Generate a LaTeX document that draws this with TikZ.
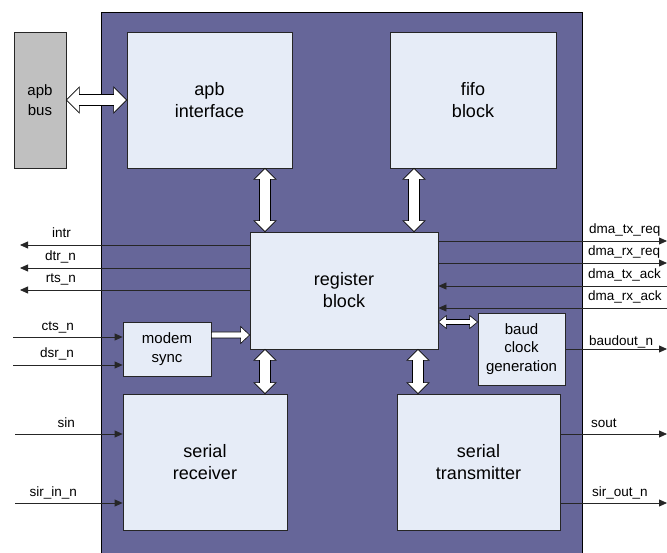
\documentclass[tikz,border=0pt]{standalone}
\usepackage{fontspec}
\setmainfont{Liberation Sans}
\usetikzlibrary{arrows.meta,calc}

\definecolor{uartfill}{HTML}{666699}
\definecolor{blkfill}{HTML}{E6ECF7}
\definecolor{busfill}{HTML}{C0C0C0}

% fat white arrows: #1 first end, #2 second end, #3 half shaft, #4 half head, #5 head length
\newcommand{\fatv}[5]{\draw[fatarr] let \p1=(#1), \p2=(#2) in
  (\x1,\y1) -- (\x1+#4,\y1-#5) -- (\x1+#3,\y1-#5) -- (\x1+#3,\y2+#5) -- (\x1+#4,\y2+#5)
  -- (\x1,\y2) -- (\x1-#4,\y2+#5) -- (\x1-#3,\y2+#5) -- (\x1-#3,\y1-#5) -- (\x1-#4,\y1-#5) -- cycle;}
\newcommand{\fath}[5]{\draw[fatarr] let \p1=(#1), \p2=(#2) in
  (\x1,\y1) -- (\x1+#5,\y1+#4) -- (\x1+#5,\y1+#3) -- (\x2-#5,\y1+#3) -- (\x2-#5,\y1+#4)
  -- (\x2,\y1) -- (\x2-#5,\y1-#4) -- (\x2-#5,\y1-#3) -- (\x1+#5,\y1-#3) -- (\x1+#5,\y1-#4) -- cycle;}
\newcommand{\fatr}[5]{\draw[fatarr] let \p1=(#1), \p2=(#2) in
  (\x1,\y1+#3) -- (\x2-#5,\y1+#3) -- (\x2-#5,\y1+#4) -- (\x2,\y1)
  -- (\x2-#5,\y1-#4) -- (\x2-#5,\y1-#3) -- (\x1,\y1-#3) -- cycle;}

\begin{document}
\begin{tikzpicture}[x=1pt, y=-1pt,
    blk/.style={draw=black!85, fill=blkfill, line width=0.8pt, align=center, inner sep=0pt,
      font=\fontsize{18}{22}\selectfont},
    smallblk/.style={blk, font=\fontsize{15}{18.5}\selectfont},
    sig/.style={draw=black!85, line width=0.8pt, -{Triangle[length=8pt,width=7pt]}},
    lbl/.style={font=\fontsize{13.5}{16}\selectfont, inner sep=0pt},
    fatarr/.style={draw=black, fill=white, line width=0.6pt}]
    \useasboundingbox (0,0) rectangle (667,553);

    % uart core
    \fill[uartfill] (101,12) rectangle (582,553);
    \draw[line width=0.8pt] (101,553) -- (101,12) -- (582,12) -- (582,553);

    % blocks
    \node[smallblk, fill=busfill, minimum width=52pt, minimum height=136pt,
      font=\fontsize{15}{20}\selectfont] (bus) at (40,100) {apb\\bus};
    \node[blk, minimum width=165pt, minimum height=136pt] (apbif) at (209.5,100) {apb\\interface};
    \node[blk, minimum width=166pt, minimum height=136pt] (fifo) at (473,100) {fifo\\block};
    \node[blk, minimum width=188pt, minimum height=117pt] (reg) at (344,290.5) {register\\block};
    \node[smallblk, minimum width=88pt, minimum height=54pt] (modem) at (167,349) {modem\\sync};
    \node[smallblk, minimum width=87pt, minimum height=72pt] (baud) at (521.5,349) {baud\\clock\\generation};
    \node[blk, minimum width=164pt, minimum height=136pt] (rx) at (205,462) {serial\\receiver};
    \node[blk, minimum width=163pt, minimum height=136pt] (tx) at (478.5,462) {serial\\transmitter};

    % internal buses
    \fath{bus.east}{apbif.west}{5.5pt}{13pt}{13pt}
    \fatv{apbif.south -| 265,0}{reg.north -| 265,0}{5.5pt}{11pt}{11pt}
    \fatv{fifo.south -| 414,0}{reg.north -| 414,0}{5.5pt}{11pt}{11pt}
    \fatv{reg.south -| 265,0}{rx.north -| 265,0}{5.5pt}{11pt}{11pt}
    \fatv{reg.south -| 418,0}{tx.north -| 418,0}{5.5pt}{11pt}{11pt}
    \fatr{modem.east |- 0,335}{reg.west |- 0,335}{3pt}{8.5pt}{9pt}
    \fath{reg.east |- 0,322}{baud.west |- 0,322}{2.5pt}{6.5pt}{8pt}

    % pin ends
    \coordinate (intr) at (20,245);
    \coordinate (dtr) at (20,268);
    \coordinate (rts) at (20,290);
    \coordinate (cts) at (13,337);
    \coordinate (dsr) at (13,365);
    \coordinate (sin) at (15,434);
    \coordinate (sirin) at (15,503);
    \coordinate (txreq) at (667,241);
    \coordinate (rxreq) at (667,263);
    \coordinate (txack) at (667,286);
    \coordinate (rxack) at (667,308);
    \coordinate (baudout) at (667,349);
    \coordinate (sout) at (667,434);
    \coordinate (sirout) at (667,503);

    % left side signals
    \draw[sig] (reg.west |- intr) -- (intr);
    \draw[sig] (reg.west |- dtr) -- (dtr);
    \draw[sig] (reg.west |- rts) -- (rts);
    \draw[sig] (cts) -- (cts -| modem.west);
    \draw[sig] (dsr) -- (dsr -| modem.west);
    \draw[sig] (sin) -- (sin -| rx.west);
    \draw[sig] (sirin) -- (sirin -| rx.west);

    % right side signals
    \draw[sig] (reg.east |- txreq) -- (txreq);
    \draw[sig] (reg.east |- rxreq) -- (rxreq);
    \draw[sig] (txack) -- (txack -| reg.east);
    \draw[sig] (rxack) -- (rxack -| reg.east);
    \draw[sig] (baud.east |- baudout) -- (baudout);
    \draw[sig] (tx.east |- sout) -- (sout);
    \draw[sig] (tx.east |- sirout) -- (sirout);

    % labels
    \node[lbl, anchor=base east] (l-intr) at (71,238) {intr};
    \node[lbl, anchor=base east] (l-dtr) at (76,261) {dtr\_n};
    \node[lbl, anchor=base east] (l-rts) at (76,283) {rts\_n};
    \node[lbl, anchor=base east] (l-cts) at (74,331) {cts\_n};
    \node[lbl, anchor=base east] (l-dsr) at (74,358) {dsr\_n};
    \node[lbl, anchor=base east] (l-sin) at (75,427.5) {sin};
    \node[lbl, anchor=base east] (l-sirin) at (77,496) {sir\_in\_n};
    \node[lbl, anchor=base west] (l-txreq) at (589,234) {dma\_tx\_req};
    \node[lbl, anchor=base west] (l-rxreq) at (588,256) {dma\_rx\_req};
    \node[lbl, anchor=base west] (l-txack) at (588,279) {dma\_tx\_ack};
    \node[lbl, anchor=base west] (l-rxack) at (588,301) {dma\_rx\_ack};
    \node[lbl, anchor=base west] (l-baudout) at (589,345.5) {baudout\_n};
    \node[lbl, anchor=base west] (l-sout) at (591,427.5) {sout};
    \node[lbl, anchor=base west] (l-sirout) at (592,496) {sir\_out\_n};
\end{tikzpicture}
\end{document}
